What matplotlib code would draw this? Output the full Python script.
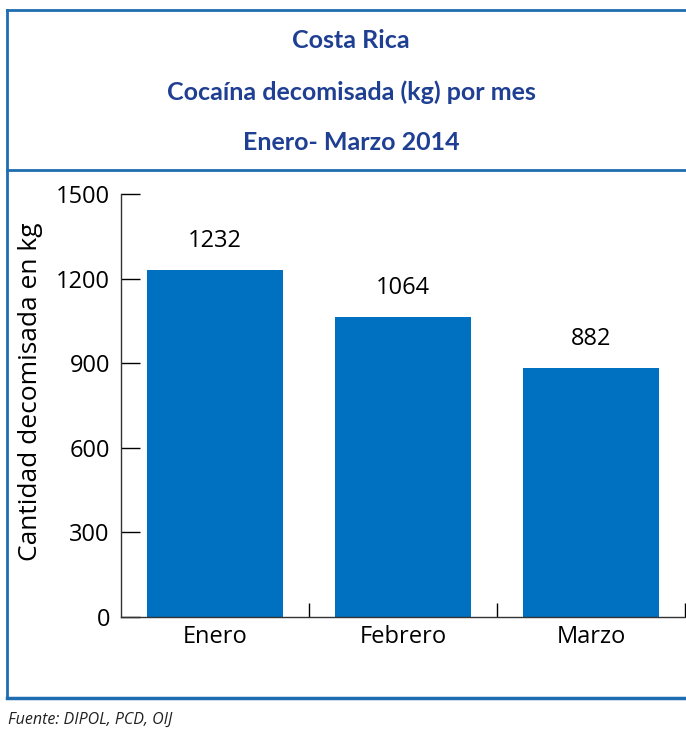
import matplotlib.pyplot as plt
from matplotlib.lines import Line2D

# datos
meses = ["Enero", "Febrero", "Marzo"]
kg = [1232, 1064, 882]
yticks = [0, 300, 600, 900, 1200, 1500]
titulos = ["Costa Rica", "Cocaína decomisada (kg) por mes", "Enero- Marzo 2014"]
fuente = "Fuente: DIPOL, PCD, OIJ"

azul = "#0070C0"
azul_titulo = "#1F3F93"
borde = "#1E6DB0"

plt.rcParams['font.family'] = ['Open Sans', 'DejaVu Sans']

fig = plt.figure(figsize=(6.86, 7.34), dpi=100)
W, H = 686, 734

def fx(px):
    return px / W

def fy(py):
    return 1 - py / H

# marco
fig.add_artist(Line2D([fx(7), 1], [fy(10), fy(10)], color=borde, lw=2))
fig.add_artist(Line2D([fx(7), 1], [fy(170), fy(170)], color=borde, lw=2))
fig.add_artist(Line2D([fx(7), 1], [fy(698), fy(698)], color=borde, lw=2.5))
fig.add_artist(Line2D([fx(7), fx(7)], [fy(10), fy(698)], color=borde, lw=2))

# titulos
for t, py in zip(titulos, [40, 92, 143]):
    fig.text(fx(351), fy(py), t, ha='center', va='center', fontsize=18,
             fontweight='bold', color=azul_titulo, family=['Lato', 'DejaVu Sans'])

fig.text(fx(8), fy(720), fuente, ha='left', va='center', fontsize=11.5,
         style='italic', color='#222222')

ax = fig.add_axes([fx(121), fy(617), fx(685) - fx(121), fy(194) - fy(617)])
x = range(len(meses))
ax.bar(x, kg, width=0.72, color=azul, zorder=2)
for i, v in enumerate(kg):
    ax.text(i, v + 60, str(v), ha='center', va='bottom', fontsize=17)

ax.set_xlim(-0.5, 2.5)
ax.set_ylim(0, 1500)
ax.set_yticks(yticks)
ax.set_yticklabels([str(v) for v in yticks], fontsize=17)
ax.set_xticks(list(x))
ax.set_xticklabels(meses, fontsize=17)
ax.tick_params(axis='x', length=0, pad=6)
ax.tick_params(axis='y', length=14, width=1, pad=8, direction='in')
ax.set_xticks([0.5, 1.5, 2.5], minor=True)
ax.tick_params(axis='x', which='minor', length=10, width=1, direction='in')
ax.set_ylabel("Cantidad decomisada en kg", fontsize=19)
ax.yaxis.set_label_coords(-0.138, 0.532)

for s in ['top', 'right']:
    ax.spines[s].set_visible(False)
for s in ['left', 'bottom']:
    ax.spines[s].set_linewidth(1)
    ax.spines[s].set_color('#333333')

fig.savefig("out.png", dpi=100)
